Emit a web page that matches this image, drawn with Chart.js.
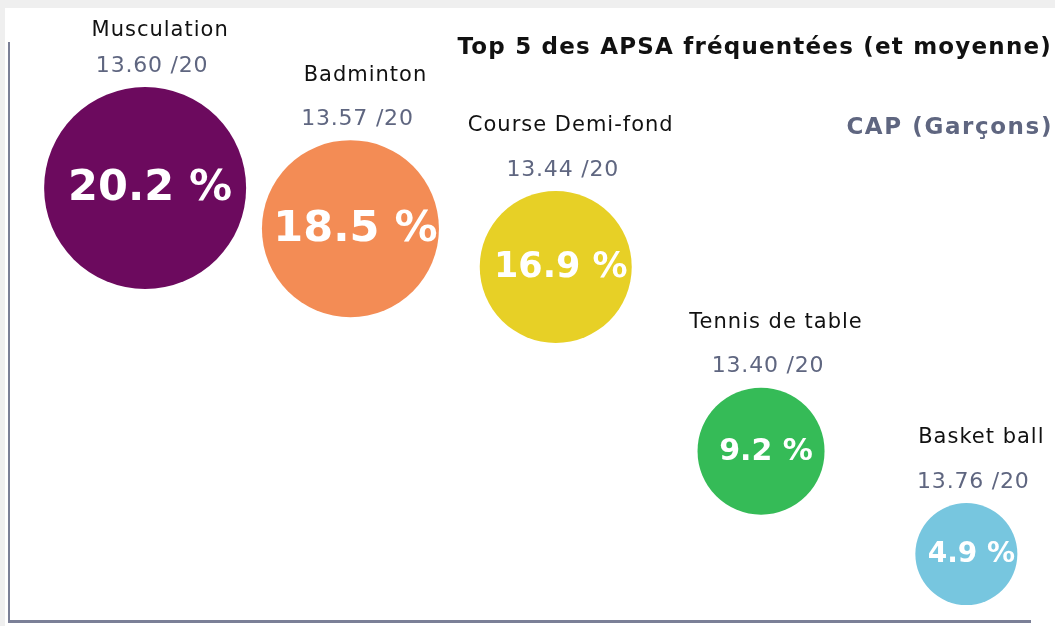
<!DOCTYPE html>
<html lang="fr">
<head>
<meta charset="UTF-8">
<title>Top 5 des APSA fréquentées (et moyenne)</title>
<script src="https://cdn.jsdelivr.net/npm/chart.js"></script>
<style>
    body {
        margin: 0;
        width: 1055px;
        height: 626px;
        background: #efefef;
        font-family: 'DejaVu Sans', sans-serif;
        overflow: hidden;
        position: relative;
    }
    .panel { position: absolute; left: 5px; top: 8px; right: 0; bottom: 0; background: #fff; }
    #bubbleChart { position: absolute; left: 0; top: 0; }
    .title {
        position: absolute; right: 3px; top: 33px;
        font-size: 23px; font-weight: 700; color: #111; letter-spacing: 1.2px;
        white-space: nowrap;
    }
    .subtitle {
        position: absolute; right: 2px; top: 113px;
        font-size: 23px; font-weight: 700; color: #5f6680; letter-spacing: 1.6px;
        white-space: nowrap;
    }
</style>
</head>
<body>
<div class="panel"></div>
<canvas id="bubbleChart" width="1055" height="626"></canvas>
<div class="title">Top 5 des APSA fréquentées (et moyenne)</div>
<div class="subtitle">CAP (Garçons)</div>
<script>
    // Données
    const apsa = ['Musculation', 'Badminton', 'Course Demi-fond', 'Tennis de table', 'Basket ball'];
    const frequentation = [20.2, 18.5, 16.9, 9.2, 4.9];   // % des élèves
    const moyenne = [13.60, 13.57, 13.44, 13.40, 13.76];   // note moyenne /20
    const couleurs = ['#6c0a5e', '#f38c55', '#e7d026', '#35bb57', '#77c6df'];

    // Taille des bulles et du texte selon le rang
    const rayon = i => 101 - 12.5 * i;
    const taillePct = [43, 43, 35, 30, 28];

    // Textes : nom, moyenne au-dessus, pourcentage au centre
    const labelsPlugin = {
        id: 'labelsPlugin',
        afterDatasetsDraw(chart) {
            const ctx = chart.ctx;
            const meta = chart.getDatasetMeta(0);
            ctx.save();
            ctx.textAlign = 'center';
            ctx.textBaseline = 'middle';
            meta.data.forEach((pt, i) => {
                const r = pt.options.radius;
                const top = pt.y - r;
                // pourcentage
                ctx.fillStyle = '#ffffff';
                ctx.letterSpacing = '0px';
                ctx.font = 'bold ' + taillePct[i] + 'px "DejaVu Sans", sans-serif';
                ctx.fillText(frequentation[i].toFixed(1) + ' %', pt.x + 5, pt.y + 1);
                // moyenne
                ctx.fillStyle = '#5f6680';
                ctx.font = '22px "DejaVu Sans", sans-serif';
                ctx.letterSpacing = '0.8px';
                ctx.fillText(moyenne[i].toFixed(2) + ' /20', pt.x + 7, top - 21);
                // nom
                ctx.fillStyle = '#111111';
                ctx.font = '21px "DejaVu Sans", sans-serif';
                ctx.letterSpacing = '1px';
                ctx.fillText(apsa[i], pt.x + 15, Math.max(31, top - 65));
            });
            ctx.restore();
        }
    };

    const ctx = document.getElementById('bubbleChart').getContext('2d');
    new Chart(ctx, {
        type: 'bubble',
        data: {
            datasets: [{
                label: 'APSA',
                data: apsa.map((a, i) => ({ x: i + 1, y: frequentation[i] })),
                backgroundColor: couleurs,
                borderWidth: 0,
                radius: c => rayon(c.dataIndex),
                hoverRadius: 0,
                clip: false
            }]
        },
        options: {
            responsive: false,
            animation: false,
            layout: { autoPadding: false, padding: { left: 9, top: 43, right: 25, bottom: 5 } },
            scales: {
                x: {
                    type: 'linear', min: 0.337, max: 5.31,
                    ticks: { display: false },
                    grid: { display: false },
                    border: { display: true, color: '#7b8097', width: 3 },
                    afterFit: s => { s.height = 0; }
                },
                y: {
                    type: 'linear', min: 2.1, max: 26.26,
                    ticks: { display: false },
                    grid: { display: false },
                    border: { display: true, color: '#7b8097', width: 2 },
                    afterFit: s => { s.width = 0; }
                }
            },
            plugins: {
                legend: { display: false },
                tooltip: { enabled: false }
            }
        },
        plugins: [labelsPlugin]
    });
</script>
</body>
</html>
